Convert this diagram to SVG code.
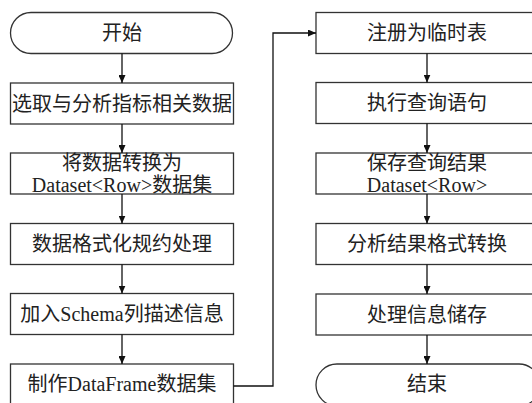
<svg xmlns="http://www.w3.org/2000/svg" width="532" height="403" viewBox="0 0 532 403">
<style>
.box{fill:#fff;stroke:#333;stroke-width:1.3}
.t{font-family:"Liberation Serif","Times New Roman","Noto Sans CJK SC",serif;font-size:20px;fill:#222;text-anchor:middle}
.c{fill:none;stroke:#111;stroke-width:1.3}
</style>
<defs>
<marker id="ah" markerUnits="userSpaceOnUse" markerWidth="8" markerHeight="7" refX="8" refY="3.5" orient="auto">
<path d="M0,0 L8,3.5 L0,7 z" fill="#111"/>
</marker>
</defs>
<rect width="532" height="403" fill="#fff"/>
<g id="n1"><rect class="box" x="10.5" y="12.5" width="222" height="41" rx="20.5"/><text class="t" x="122" y="40">开始</text></g>
<g id="n2"><rect class="box" x="10.5" y="83" width="223" height="41"/><text class="t" x="122" y="111">选取与分析指标相关数据</text></g>
<g id="n3"><rect class="box" x="10.5" y="153" width="223" height="41"/><text class="t" x="122" y="170">将数据转换为</text><text class="t" x="122" y="192">Dataset&lt;Row&gt;数据集</text></g>
<g id="n4"><rect class="box" x="10.5" y="223.5" width="223" height="41"/><text class="t" x="122" y="251">数据格式化规约处理</text></g>
<g id="n5"><rect class="box" x="10.5" y="293.5" width="223" height="41"/><text class="t" x="122" y="321">加入Schema列描述信息</text></g>
<g id="n6"><rect class="box" x="10.5" y="364" width="223" height="42"/><text class="t" x="122" y="391">制作DataFrame数据集</text></g>
<g id="n7"><rect class="box" x="316" y="12.5" width="224" height="41"/><text class="t" x="427" y="40">注册为临时表</text></g>
<g id="n8"><rect class="box" x="316" y="82.5" width="224" height="41"/><text class="t" x="427" y="110">执行查询语句</text></g>
<g id="n9"><rect class="box" x="316" y="153" width="224" height="41"/><text class="t" x="427" y="170">保存查询结果</text><text class="t" x="427" y="192">Dataset&lt;Row&gt;</text></g>
<g id="n10"><rect class="box" x="316" y="223.5" width="224" height="41"/><text class="t" x="427" y="251">分析结果格式转换</text></g>
<g id="n11"><rect class="box" x="316" y="294" width="224" height="41"/><text class="t" x="427" y="322">处理信息储存</text></g>
<g id="n12"><rect class="box" x="316" y="364" width="224" height="42" rx="21"/><text class="t" x="427" y="391">结束</text></g>
<g id="connectors">
<path class="c" d="M122,53.5 V83" marker-end="url(#ah)"/>
<path class="c" d="M122,124 V153" marker-end="url(#ah)"/>
<path class="c" d="M122,194 V223.5" marker-end="url(#ah)"/>
<path class="c" d="M122,264.5 V293.5" marker-end="url(#ah)"/>
<path class="c" d="M122,334.5 V364" marker-end="url(#ah)"/>
<path class="c" d="M233.5,386 H273 V33 H316" marker-end="url(#ah)"/>
<path class="c" d="M427,53.5 V82.5" marker-end="url(#ah)"/>
<path class="c" d="M427,123.5 V153" marker-end="url(#ah)"/>
<path class="c" d="M427,194 V223.5" marker-end="url(#ah)"/>
<path class="c" d="M427,264.5 V294" marker-end="url(#ah)"/>
<path class="c" d="M427,335 V364" marker-end="url(#ah)"/>
</g>
</svg>
